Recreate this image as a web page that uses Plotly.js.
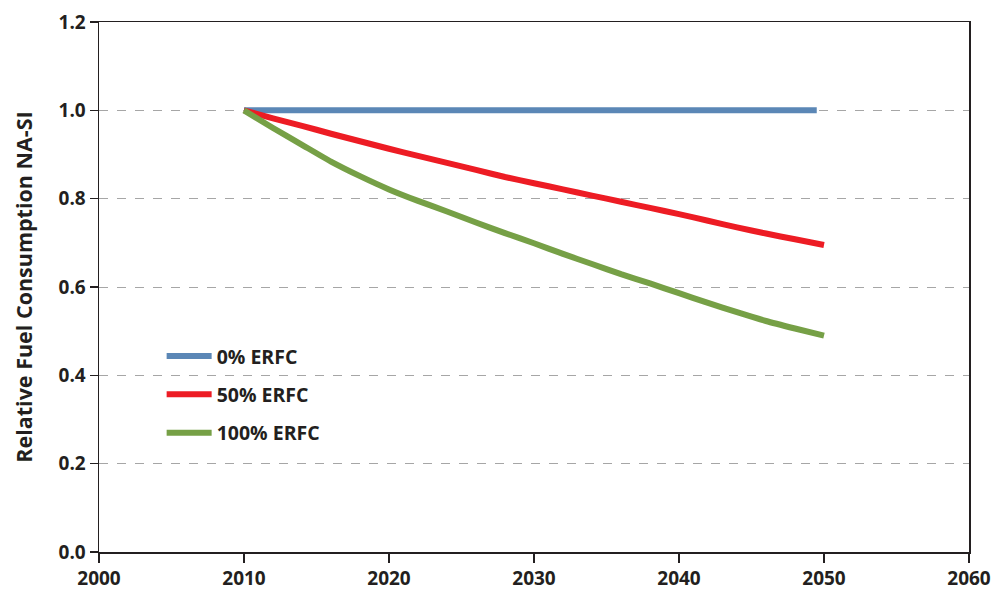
<!DOCTYPE html>
<html>
<head>
<meta charset="utf-8">
<script src="https://cdn.plot.ly/plotly-3.0.1.min.js"></script>
<style>html,body{margin:0;padding:0;background:#fff;}#chart{width:995px;height:592px;}</style>
</head>
<body>
<div id="chart"></div>
<script>
// Data
const seriesNames = ["0% ERFC", "50% ERFC", "100% ERFC"];
const yearsBlue = [2010, 2020, 2030, 2040, 2049.5];
const valuesBlue = [1.0, 1.0, 1.0, 1.0, 1.0];
const years = [2010, 2012, 2014, 2016, 2018, 2020, 2022, 2024, 2026, 2028, 2030,
               2032, 2034, 2036, 2038, 2040, 2042, 2044, 2046, 2048, 2050];
const valuesRed = [1.0, 0.982, 0.965, 0.947, 0.930, 0.913, 0.897, 0.881, 0.865, 0.849, 0.835,
                   0.821, 0.807, 0.793, 0.779, 0.765, 0.750, 0.735, 0.721, 0.708, 0.695];
const valuesGreen = [1.0, 0.960, 0.922, 0.884, 0.851, 0.821, 0.795, 0.771, 0.746, 0.722, 0.699,
                     0.675, 0.652, 0.629, 0.608, 0.586, 0.564, 0.543, 0.523, 0.506, 0.490];
const xTicks = [2000, 2010, 2020, 2030, 2040, 2050, 2060];
const yTicks = [0, 0.2, 0.4, 0.6, 0.8, 1.0, 1.2];
const yTickLabels = ["0.0", "0.2", "0.4", "0.6", "0.8", "1.0", "1.2"];

const colors = ["#5b87b6", "#ed1c24", "#76a046"];
const FONT = "'Open Sans', Lato, 'DejaVu Sans', sans-serif";

const traces = [
  {x: yearsBlue, y: valuesBlue, name: seriesNames[0], legendgroup: "a"},
  {x: years, y: valuesRed, name: seriesNames[1], legendgroup: "b"},
  {x: years, y: valuesGreen, name: seriesNames[2], legendgroup: "c"}
].map((t, i) => Object.assign(t, {
  type: "scatter", mode: "lines",
  line: {color: colors[i], width: 6, shape: "spline", smoothing: 0.5},
  hoverinfo: "skip"
}));

const layout = {
  width: 995, height: 592,
  margin: {l: 99, r: 26, t: 22, b: 40},
  paper_bgcolor: "#fff", plot_bgcolor: "#fff",
  font: {family: FONT, size: 19, color: "#231f20", weight: "bold"},
  showlegend: true,
  legend: {
    x: 0.072, y: 0.406, xanchor: "left", yanchor: "top",
    bgcolor: "rgba(0,0,0,0)", borderwidth: 0,
    traceorder: "grouped", tracegroupgap: 10,
    font: {family: FONT, size: 19.5, color: "#231f20", weight: "bold"},
    itemwidth: 45
  },
  xaxis: {
    range: [2000, 2060], tickvals: xTicks, ticktext: xTicks.map(String),
    showgrid: false, zeroline: false,
    showline: true, linecolor: "#231f20", linewidth: 1.5, mirror: true,
    ticks: "outside", ticklen: 9, tickwidth: 1.5, tickcolor: "#231f20",
    tickfont: {family: FONT, size: 19, color: "#231f20", weight: "bold"}
  },
  yaxis: {
    range: [0, 1.2], tickvals: yTicks, ticktext: yTickLabels,
    showgrid: true, gridcolor: "#a6a6a6", griddash: "dash", gridwidth: 1,
    zeroline: false,
    showline: true, linecolor: "#231f20", linewidth: 1.5, mirror: true,
    ticks: "outside", ticklen: 8, tickwidth: 1.5, tickcolor: "#231f20",
    tickfont: {family: FONT, size: 19, color: "#231f20", weight: "bold"},
    title: {text: "Relative Fuel Consumption NA-SI", standoff: 20,
            font: {family: FONT, size: 21.5, color: "#231f20", weight: "bold"}}
  }
};

Plotly.newPlot("chart", traces, layout, {staticPlot: true, displayModeBar: false});
</script>
</body>
</html>
